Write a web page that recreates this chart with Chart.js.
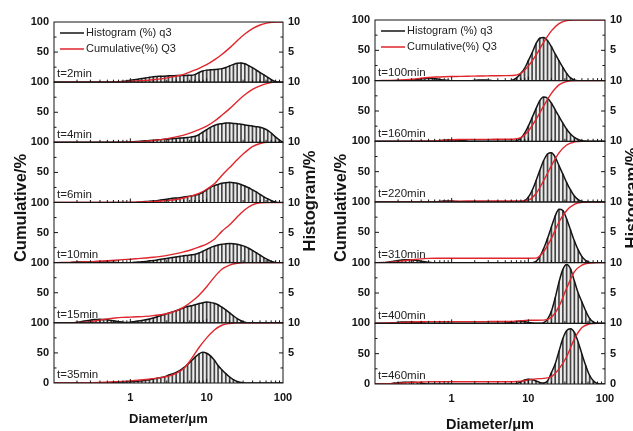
<!DOCTYPE html>
<html>
<head>
<meta charset="utf-8">
<script src="https://cdn.jsdelivr.net/npm/chart.js@4.4.0/dist/chart.umd.min.js"></script>
<style>
  html, body { margin: 0; padding: 0; background: #fff; }
  #wrap { position: relative; width: 633px; height: 431px; overflow: hidden; }
  #wrap canvas { position: absolute; top: 0; }
</style>
</head>
<body>
<div id="wrap">
  <canvas id="left" width="318" height="431" style="left:0"></canvas>
  <canvas id="right" width="315" height="431" style="left:318px"></canvas>
</div>
<script>
// size classes (µm), 20 per decade
const sizeBins = [0.1, 0.112, 0.126, 0.141, 0.158, 0.178, 0.2, 0.224, 0.251, 0.282,
  0.316, 0.355, 0.398, 0.447, 0.501, 0.562, 0.631, 0.708, 0.794, 0.891,
  1, 1.12, 1.26, 1.41, 1.58, 1.78, 2, 2.24, 2.51, 2.82,
  3.16, 3.55, 3.98, 4.47, 5.01, 5.62, 6.31, 7.08, 7.94, 8.91,
  10, 11.2, 12.6, 14.1, 15.8, 17.8, 20, 22.4, 25.1, 28.2,
  31.6, 35.5, 39.8, 44.7, 50.1, 56.2, 63.1, 70.8, 79.4, 89.1, 100];
// every second class, for the cumulative curves
const cumSizes = [0.1, 0.126, 0.158, 0.2, 0.251, 0.316, 0.398, 0.501, 0.631, 0.794,
  1, 1.26, 1.58, 2, 2.51, 3.16, 3.98, 5.01, 6.31, 7.94,
  10, 12.6, 15.8, 20, 25.1, 31.6, 39.8, 50.1, 63.1, 79.4, 100];

const xTickLabels = [1, 10, 100];
const cumTicks = [0, 50, 100];
const histTicks = [0, 5, 10];

const leftTimes = ['t=2min', 't=4min', 't=6min', 't=10min', 't=15min', 't=35min'];
const rightTimes = ['t=100min', 't=160min', 't=220min', 't=310min', 't=400min', 't=460min'];

// histogram q3 (%) per size class
const q3_2min = [0,0,0,0,0,0,0,0,0,0, 0,0,0,0,0,0,0,0.05,0.1,0.2,
  0.3,0.4,0.5,0.6,0.7,0.8,0.9,0.95,1.0,1.0, 1.05,1.05,1.1,1.1,1.1,1.15,1.15,1.3,1.6,1.85,
  2.0,2.05,2.1,2.15,2.25,2.45,2.7,2.95,3.15,3.2, 3.05,2.75,2.4,2.0,1.6,1.2,0.8,0.4,0.1,0, 0];
const q3_4min = [0,0,0,0,0,0,0,0,0,0, 0,0,0,0,0,0,0,0,0,0.02,
  0.05,0.1,0.15,0.2,0.25,0.3,0.35,0.4,0.45,0.5, 0.55,0.6,0.65,0.7,0.75,0.8,0.9,1.0,1.3,1.7,
  2.1,2.5,2.8,3.0,3.1,3.2,3.2,3.15,3.1,3.0, 2.9,2.8,2.7,2.6,2.5,2.3,2.0,1.5,0.9,0.4, 0];
const q3_6min = [0,0,0,0,0,0,0,0,0,0, 0,0,0,0,0,0,0,0,0,0,
  0,0,0.05,0.1,0.15,0.2,0.25,0.3,0.4,0.5, 0.6,0.7,0.75,0.8,0.9,1.0,1.1,1.2,1.4,1.7,
  2.1,2.5,2.8,3.0,3.2,3.3,3.35,3.3,3.2,3.0, 2.75,2.45,2.1,1.75,1.35,0.95,0.6,0.3,0.1,0, 0];
const q3_10min = [0,0,0,0,0,0.05,0.1,0.1,0.1,0.1, 0.1,0.1,0.1,0.1,0.1,0.05,0.05,0,0,0,
  0,0.05,0.1,0.15,0.2,0.3,0.35,0.45,0.55,0.65, 0.75,0.85,0.95,1.05,1.15,1.2,1.3,1.4,1.6,1.9,
  2.2,2.5,2.75,2.95,3.05,3.15,3.2,3.15,3.05,2.9, 2.7,2.4,2.05,1.65,1.25,0.85,0.5,0.2,0.05,0, 0];
const q3_15min = [0,0,0,0,0,0,0.1,0.2,0.3,0.4, 0.5,0.55,0.6,0.55,0.5,0.4,0.3,0.2,0.1,0.05,
  0.1,0.2,0.3,0.4,0.5,0.65,0.8,1.0,1.2,1.4, 1.6,1.8,2.0,2.25,2.5,2.7,2.85,3.0,3.2,3.35,
  3.45,3.4,3.25,3.0,2.6,2.15,1.65,1.15,0.7,0.35, 0.1,0,0,0,0,0,0,0,0,0, 0];
const q3_35min = [0,0,0,0,0,0,0,0,0,0, 0,0,0,0,0,0.05,0.1,0.15,0.15,0.2,
  0.2,0.25,0.3,0.35,0.45,0.55,0.65,0.8,0.9,1.05, 1.3,1.5,1.75,2.1,2.55,3.1,3.7,4.3,4.85,5.1,
  4.95,4.5,3.8,2.9,2.2,1.55,1.0,0.55,0.25,0.08, 0,0,0,0,0,0,0,0,0,0, 0];
const q3_100min = [0,0,0,0,0,0,0,0,0,0.05, 0.1,0.2,0.3,0.35,0.4,0.35,0.3,0.2,0.1,0.05,
  0,0,0,0,0,0,0.05,0.1,0.1,0.1, 0.05,0,0,0,0,0,0.1,0.5,1.2,2.0,
  3.3,4.6,6.1,7.0,7.1,6.6,5.6,4.4,3.3,2.2, 1.2,0.45,0.1,0,0,0,0,0,0,0, 0];
const q3_160min = [0,0,0,0,0,0,0,0,0,0, 0,0,0,0,0,0,0.05,0.1,0.15,0.2,
  0.2,0.2,0.15,0.1,0.05,0,0,0,0,0, 0,0,0,0,0,0,0,0.1,0.5,1.3,
  2.5,3.9,5.4,6.7,7.3,7.1,6.3,5.2,4.1,3.0, 2.0,1.2,0.65,0.3,0.1,0.03,0,0,0,0, 0];
const q3_220min = [0,0,0,0,0,0,0,0,0,0, 0,0,0,0,0,0,0.05,0.1,0.15,0.15,
  0.15,0.1,0.05,0,0,0,0,0,0,0, 0,0,0,0,0,0,0,0,0,0.2,
  0.8,1.9,3.5,5.2,6.8,7.9,8.1,7.4,6.0,4.6, 3.2,2.0,1.0,0.4,0.1,0,0,0,0,0, 0];
const q3_310min = [0,0,0,0.05,0.15,0.25,0.35,0.45,0.5,0.5, 0.45,0.35,0.25,0.15,0.05,0,0,0,0,0,
  0,0,0,0,0,0,0,0,0,0, 0,0,0,0,0,0,0,0,0,0,
  0,0,0.2,1.0,2.3,4.0,5.9,7.7,8.8,8.6, 7.2,5.4,3.6,2.1,1.0,0.35,0.05,0,0,0, 0];
const q3_400min = [0,0,0,0,0.05,0.1,0.15,0.2,0.2,0.2, 0.2,0.15,0.1,0.05,0,0,0,0,0,0,
  0,0,0,0,0,0,0,0,0,0, 0,0,0,0,0.05,0.1,0.2,0.3,0.35,0.3,
  0.15,0.05,0,0,0.1,0.7,2.0,4.2,6.8,8.9, 9.7,9.0,7.0,5.0,3.5,2.0,0.8,0.2,0,0, 0];
const q3_460min = [0,0,0,0,0.05,0.15,0.2,0.25,0.3,0.3, 0.3,0.25,0.15,0.05,0,0,0,0,0,0,
  0,0,0,0,0,0,0,0,0,0, 0,0,0,0,0,0,0,0.1,0.35,0.65,
  0.8,0.75,0.5,0.25,0.15,0.5,1.9,3.3,5.4,7.5, 8.8,9.1,8.5,6.9,4.9,3.0,1.4,0.5,0.1,0, 0];

// cumulative Q3 (%) on cumSizes
const Q3_2min = [0,0,0,0,0,0,0,0,0.5,1, 1.5,2.2,3,4.2,5.5,7.5,10,13,18,23,
  29,37,46,57,69,80,89,95,98.5,100, 100];
const Q3_4min = [0,0,0,0,0,0,0,0,0,0.2, 0.5,1,2,3,4.5,6.5,9,12,16,21,
  27,35,45,56,68,79,88,94,98,100, 100];
const Q3_6min = [0,0,0,0,0,0,0,0,0,0, 0.3,0.5,1,1.5,2.5,3.5,5,7.5,11,15,
  22,31,45,58,71,83,93,98,100,100, 100];
const Q3_10min = [0,0.2,0.5,0.8,1.2,1.8,2.5,3.2,4,5, 5.8,6.8,7.8,9,10.5,12.5,15,18,21.5,26,
  31,39,52,63,76,88,96,99.5,100,100, 100];
const Q3_15min = [0,0,0,0.5,1.2,2.5,4.5,6.5,8,9, 9.5,10,10.8,12,13.5,16,20,26,35,46,
  60,76,89,96,99,100,100,100,100,100, 100];
const Q3_35min = [0,0,0,0,0.3,0.6,1,1.5,2,2.7, 3.5,4.5,5.8,7.2,9,11.5,16,24,40,59,
  75,88,96,99,100,100,100,100,100,100, 100];
const Q3_100min = [0,0.2,0.5,1,1.5,2.5,4,5.2,6,6.5, 6.8,7,7.2,7.5,7.8,8,8.2,8.3,8.5,12,
  24,42,63,82,94,99,100,100,100,100, 100];
const Q3_160min = [0,0,0,0,0,0,0.2,0.5,1,1.8, 2.5,3,3.2,3.3,3.3,3.3,3.4,3.4,3.5,6,
  17,36,58,79,93,98.5,100,100,100,100, 100];
const Q3_220min = [0,0,0,0,0,0,0,0,0.3,0.8, 1.2,1.5,1.6,1.6,1.6,1.6,1.6,1.6,1.6,1.6,
  3,14,35,60,81,94,99,100,100,100, 100];
const Q3_310min = [0,0.3,0.8,2,3.5,5,6.3,7,7.3,7.3, 7.3,7.3,7.3,7.3,7.3,7.3,7.3,7.3,7.3,7.3,
  7.3,7.5,18,40,67,86,96,99.5,100,100, 100];
const Q3_400min = [0,0.2,0.5,1,1.6,2.2,2.6,2.8,2.8,2.8, 2.8,2.8,2.8,2.8,2.8,2.9,2.9,3,3.3,4.2,
  5,5.2,5.3,10,28,58,85,96,99.5,100, 100];
const Q3_460min = [0,0.2,0.6,1.2,2,2.8,3.4,3.6,3.7,3.7, 3.7,3.7,3.7,3.7,3.7,3.7,3.7,3.7,3.7,4.5,
  6.5,8.5,9.3,12,25,45,74,93,99,100, 100];

const histLabel = 'Histogram (%) q3';
const cumLabel = 'Cumulative(%) Q3';

Chart.defaults.font.family = '"Liberation Sans", Arial, sans-serif';
Chart.defaults.color = '#111';

const RED = '#e0262c';
const INK = '#141414';

const panels = [
  {
    id: 'left', times: leftTimes,
    q3: [q3_2min, q3_4min, q3_6min, q3_10min, q3_15min, q3_35min],
    Q3: [Q3_2min, Q3_4min, Q3_6min, Q3_10min, Q3_15min, Q3_35min],
    leftW: 54, rightW: 35, top: 22, xHeight: 48,
    xTitle: {size: 13, lineHeight: 1.2, pad: 4},
    cumTitle: [21.5, 208], histTitle: [310, 201], rightZero: false
  },
  {
    id: 'right', times: rightTimes,
    q3: [q3_100min, q3_160min, q3_220min, q3_310min, q3_400min, q3_460min],
    Q3: [Q3_100min, Q3_160min, Q3_220min, Q3_310min, Q3_400min, Q3_460min],
    leftW: 57, rightW: 28, top: 20, xHeight: 47,
    xTitle: {size: 14.5, lineHeight: 0.8, pad: 0},
    cumTitle: [23, 208], histTitle: [314, 198], rightZero: true
  }
];

// frames, inward ticks, legend, time labels and the shared axis titles
const panelDecor = {
  id: 'panelDecor',
  afterDraw(chart, args, o) {
    const {ctx, chartArea: a, scales} = chart;
    const x = scales.x;
    const n = o.times.length;
    ctx.save();
    ctx.strokeStyle = INK;
    ctx.lineWidth = 1;
    for (let k = 0; k < n; k++) {
      const c = scales['c' + k], h = scales['h' + k];
      ctx.strokeRect(a.left, c.top, a.right - a.left, c.bottom - c.top);
      ctx.beginPath();
      [25, 50, 75].forEach(v => {
        const y = c.getPixelForValue(v);
        ctx.moveTo(a.left, y); ctx.lineTo(a.left + (v === 50 ? 4 : 2.5), y);
      });
      [2.5, 5, 7.5].forEach(v => {
        const y = h.getPixelForValue(v);
        ctx.moveTo(a.right, y); ctx.lineTo(a.right - (v === 5 ? 4 : 2.5), y);
      });
      [0.1, 1, 10].forEach(d => {
        for (let m = 1; m < 10; m++) {
          const v = d * m;
          if (v <= 0.1) continue;
          const px = x.getPixelForValue(v);
          ctx.moveTo(px, c.bottom); ctx.lineTo(px, c.bottom - (m === 1 ? 4 : 2.5));
        }
      });
      ctx.stroke();

      ctx.fillStyle = '#222';
      ctx.font = '11.5px "Liberation Sans", Arial, sans-serif';
      ctx.textBaseline = 'middle';
      ctx.textAlign = 'left';
      ctx.fillText(o.times[k], a.left + 3, c.bottom - 8);
    }

    // legend in the first subplot
    const c0 = scales.c0;
    ctx.font = '11px "Liberation Sans", Arial, sans-serif';
    [[INK, histLabel, 11], [RED, cumLabel, 27]].forEach(([col, txt, dy]) => {
      ctx.strokeStyle = col;
      ctx.lineWidth = 1.5;
      ctx.beginPath();
      ctx.moveTo(a.left + 6, c0.top + dy); ctx.lineTo(a.left + 30, c0.top + dy);
      ctx.stroke();
      ctx.fillStyle = '#222';
      ctx.fillText(txt, a.left + 32, c0.top + dy);
    });

    // axis titles spanning the stack
    ctx.fillStyle = INK;
    ctx.font = 'bold 16.5px "Liberation Sans", Arial, sans-serif';
    ctx.textAlign = 'center';
    [['Cumulative/%', o.cumTitle], ['Histogram/%', o.histTitle]].forEach(([txt, p]) => {
      ctx.save();
      ctx.translate(p[0], p[1]);
      ctx.rotate(-Math.PI / 2);
      ctx.fillText(txt, 0, 0);
      ctx.restore();
    });
    ctx.restore();
  }
};

function buildPanel(p) {
  const n = p.times.length;
  const tickFont = {size: 11, weight: 'bold'};
  const scales = {
    x: {
      type: 'logarithmic', position: 'bottom', min: 0.1, max: 100, offset: false,
      grid: {display: false, drawTicks: false, offset: false},
      border: {display: false},
      afterBuildTicks: s => { s.ticks = xTickLabels.map(v => ({value: v})); },
      afterFit: s => { s.height = p.xHeight; },
      ticks: {autoSkip: false, maxRotation: 0, padding: 8, font: tickFont, color: INK,
        callback: v => String(v)},
      title: {display: true, text: 'Diameter/μm', color: INK,
        font: {size: p.xTitle.size, weight: 'bold', lineHeight: p.xTitle.lineHeight},
        padding: {top: 0, bottom: p.xTitle.pad}}
    }
  };
  const datasets = [];
  for (let k = 0; k < n; k++) {
    const last = k === n - 1;
    scales['c' + k] = {
      type: 'linear', position: 'left', stack: 'cum', stackWeight: 1, weight: n - k,
      min: 0, max: 100,
      grid: {display: false, drawTicks: false}, border: {display: false},
      afterBuildTicks: s => { s.ticks = cumTicks.map(v => ({value: v})); },
      afterFit: s => { s.width = p.leftW; },
      ticks: {padding: 5, font: tickFont, color: INK,
        callback: v => (v === 0 && !last) ? '' : String(v)}
    };
    scales['h' + k] = {
      type: 'linear', position: 'right', stack: 'hist', stackWeight: 1, weight: k,
      min: 0, max: 10,
      grid: {display: false, drawTicks: false}, border: {display: false},
      afterBuildTicks: s => { s.ticks = histTicks.map(v => ({value: v})); },
      afterFit: s => { s.width = p.rightW; },
      ticks: {padding: 5, font: tickFont, color: INK,
        callback: v => (v === 0 && !(last && p.rightZero)) ? '' : String(v)}
    };
    const hist = sizeBins.map((s, i) => ({x: s, y: p.q3[k][i]}));
    datasets.push({
      type: 'line', label: cumLabel, yAxisID: 'c' + k, order: 0,
      data: cumSizes.map((s, i) => ({x: s, y: p.Q3[k][i]})),
      borderColor: RED, borderWidth: 1.4, pointRadius: 0, cubicInterpolationMode: 'monotone'
    });
    datasets.push({
      type: 'line', label: histLabel, yAxisID: 'h' + k, order: 1, data: hist,
      borderColor: INK, borderWidth: 1.5, pointRadius: 0, cubicInterpolationMode: 'monotone',
      fill: 'origin', backgroundColor: 'rgba(0,0,0,0.08)'
    });
    datasets.push({
      type: 'bar', label: histLabel, yAxisID: 'h' + k, order: 2, data: hist,
      backgroundColor: '#4a4a4a', barThickness: 1, grouped: false, stack: 'bars' + k
    });
  }
  return new Chart(document.getElementById(p.id), {
    type: 'line',
    data: {datasets},
    options: {
      responsive: false,
      animation: false,
      events: [],
      layout: {padding: {top: p.top, left: 0, right: 0, bottom: 0}},
      scales,
      plugins: {
        legend: {display: false},
        tooltip: {enabled: false},
        panelDecor: {times: p.times, cumTitle: p.cumTitle, histTitle: p.histTitle}
      }
    },
    plugins: [panelDecor]
  });
}

panels.forEach(buildPanel);
</script>
</body>
</html>
